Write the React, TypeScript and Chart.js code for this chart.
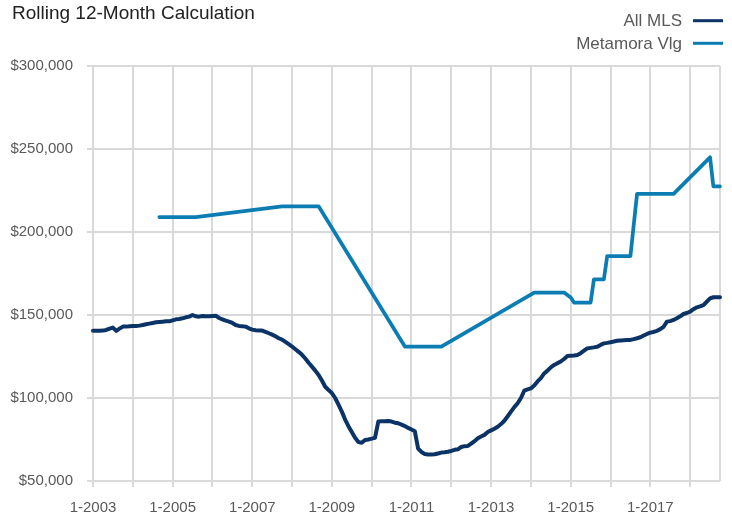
import React, { useEffect, useRef } from "react";
import { Chart, registerables } from "chart.js";

Chart.register(...registerables);

// ---- data ----
const startYear = 2003;
const monthCount = 190; // Jan 2003 .. Oct 2018
const seriesNames = ["All MLS", "Metamora Vlg"];
const seriesColors = ["#0B3366", "#0C7DB3"];
const titleText = "Rolling 12-Month Calculation";

// monthly values, thousands of dollars
const allMls: number[] = [
  140.5, 140.5, 140.5, 140.6, 141.0, 141.8, 142.4, 140.4, 141.8, 143.0, 143.0, 143.2,
  143.4, 143.4, 143.6, 144.0, 144.4, 144.8, 145.2, 145.6, 145.8, 146.0, 146.2, 146.2,
  146.8, 147.4, 147.6, 148.0, 148.6, 149.0, 150.0, 149.2, 149.0, 149.4, 149.2, 149.2,
  149.4, 149.6, 148.2, 147.4, 146.6, 146.0, 145.2, 144.0, 143.4, 143.2, 143.0, 142.0,
  141.2, 140.8, 140.6, 140.6, 139.8, 139.0, 138.2, 137.2, 136.0, 135.2, 133.8, 132.4,
  131.0, 129.4, 127.8, 126.0, 123.8, 121.2, 118.9, 116.5, 113.9, 110.5, 106.8, 104.8,
  103.0, 100.0, 96.0, 91.8, 87.0, 83.0, 79.5, 76.0, 73.5, 73.0, 74.7, 75.0,
  75.5, 76.0, 85.8, 86.0, 86.0, 86.1, 85.8, 85.1, 84.8, 84.0, 83.1, 82.0,
  81.0, 80.0, 69.5, 67.5, 66.3, 66.0, 66.0, 66.1, 66.6, 67.1, 67.3, 67.6,
  68.1, 68.8, 69.1, 70.5, 71.0, 71.1, 72.5, 74.0, 75.7, 76.8, 77.8, 79.5,
  80.5, 81.5, 82.7, 84.3, 86.3, 89.0, 91.8, 94.5, 96.8, 100.0, 104.4, 105.2,
  105.8, 107.5, 110.0, 112.0, 114.8, 116.5, 118.5, 119.9, 121.0, 122.0, 123.5, 125.3,
  125.5, 125.6, 125.9, 127.0, 128.5, 129.9, 130.2, 130.5, 130.9, 132.0, 132.9, 133.2,
  133.6, 134.0, 134.5, 134.7, 134.8, 134.9, 135.0, 135.5, 136.0, 136.6, 137.6, 138.6,
  139.4, 139.8, 140.5, 141.5, 142.9, 146.0, 146.3, 147.0, 148.0, 149.2, 150.6, 151.2,
  152.0, 153.5, 154.6, 155.2, 156.0, 158.0, 160.0, 160.7, 160.7, 160.7,
];

// sparse observations (month index -> thousands of dollars)
const metamoraMonths: number[] = [20, 31, 57, 68, 94, 105, 133, 142, 144, 145, 150, 151, 154, 155, 162, 164, 175, 186, 187, 189];
const metamoraValues: number[] = [209, 209, 215.5, 215.5, 131, 131, 163.5, 163.5, 160.5, 157.5, 157.5, 171.5, 171.5, 185.5, 185.5, 223, 223, 245, 227.5, 227.5];

const yTicks: number[] = [50000, 100000, 150000, 200000, 250000, 300000];

const labels: string[] = Array.from({ length: monthCount }, (_, i) => `${(i % 12) + 1}-${startYear + Math.floor(i / 12)}`);

const FONT = "'Liberation Sans', Arial, sans-serif";
const GRID = "#d9d9d9";

export default function App() {
  const ref = useRef<HTMLCanvasElement | null>(null);

  useEffect(() => {
    if (!ref.current) return;
    const metamora: (number | null)[] = new Array(monthCount).fill(null);
    metamoraMonths.forEach((m, i) => {
      metamora[m] = metamoraValues[i] * 1000;
    });

    const headerPlugin = {
      id: "header",
      afterDraw(chart: any) {
        const ctx = chart.ctx as CanvasRenderingContext2D;
        ctx.save();
        ctx.textBaseline = "alphabetic";
        ctx.fillStyle = "#222222";
        ctx.font = `19px ${FONT}`;
        ctx.textAlign = "left";
        ctx.fillText(titleText, 12, 19);

        ctx.font = `17px ${FONT}`;
        ctx.textAlign = "right";
        const baselines = [26, 48.6];
        const lineYs = [20.7, 43.3];
        seriesNames.forEach((name, i) => {
          ctx.fillStyle = "#595959";
          ctx.fillText(name, 682, baselines[i]);
          ctx.strokeStyle = seriesColors[i];
          ctx.lineWidth = 3;
          ctx.beginPath();
          ctx.moveTo(693, lineYs[i]);
          ctx.lineTo(723, lineYs[i]);
          ctx.stroke();
        });
        ctx.restore();
      },
    };

    const chart = new Chart(ref.current, {
      type: "line",
      data: {
        labels,
        datasets: [
          {
            label: seriesNames[0],
            data: allMls.map((v) => v * 1000),
            borderColor: seriesColors[0],
            borderWidth: 4,
            pointRadius: 0,
            tension: 0,
            borderJoinStyle: "round",
            borderCapStyle: "round",
          },
          {
            label: seriesNames[1],
            data: metamora,
            borderColor: seriesColors[1],
            borderWidth: 3.75,
            pointRadius: 0,
            tension: 0,
            spanGaps: true,
            borderJoinStyle: "round",
            borderCapStyle: "round",
          },
        ],
      },
      options: {
        animation: false,
        responsive: false,
        maintainAspectRatio: false,
        layout: { padding: { top: 66, right: 10, left: 0, bottom: 0 } },
        plugins: { legend: { display: false }, title: { display: false }, tooltip: { enabled: false } },
        scales: {
          x: {
            type: "category",
            offset: false,
            border: { display: false },
            grid: {
              color: (c: any) => (c.index % 12 === 0 || c.index === monthCount - 1 ? GRID : "rgba(0,0,0,0)"),
              lineWidth: 2,
              tickLength: 6,
              tickColor: (c: any) => (c.index % 12 === 0 ? GRID : "rgba(0,0,0,0)"),
            },
            ticks: {
              autoSkip: false,
              maxRotation: 0,
              minRotation: 0,
              padding: 12,
              color: "#595959",
              font: { family: FONT, size: 15 },
              callback: function (this: any, value: any, index: number) {
                return index % 24 === 0 ? labels[index] : "";
              },
            },
            afterFit: (s: any) => {
              s.height = 34;
            },
          },
          y: {
            min: yTicks[0],
            max: yTicks[yTicks.length - 1],
            border: { display: false },
            grid: { color: GRID, lineWidth: 2, tickLength: 6 },
            afterBuildTicks: (s: any) => {
              s.ticks = yTicks.map((v) => ({ value: v }));
            },
            ticks: {
              padding: 14,
              color: "#595959",
              font: { family: FONT, size: 15 },
              callback: (v: any) => "$" + Number(v).toLocaleString("en-US"),
            },
            afterFit: (s: any) => {
              s.width = 93;
            },
          },
        },
      },
      plugins: [headerPlugin],
    });
    return () => chart.destroy();
  }, []);

  return (
    <div style={{ position: "absolute", left: 0, top: 0, width: 732, height: 515, background: "#fff" }}>
      <canvas ref={ref} width={732} height={515} style={{ display: "block", width: 732, height: 515 }} />
    </div>
  );
}
